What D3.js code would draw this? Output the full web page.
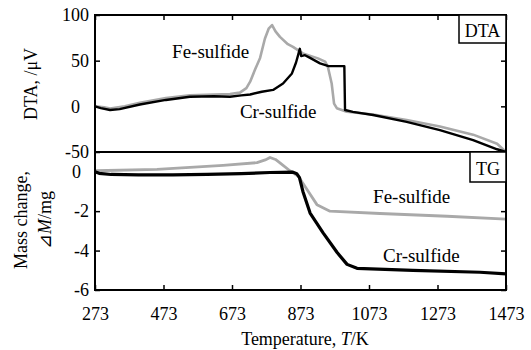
<!DOCTYPE html>
<html><head><meta charset="utf-8">
<script src="https://cdn.jsdelivr.net/npm/d3@7"></script>
<style>
body{margin:0;background:#fff;}
svg, svg text{font-family:"Liberation Serif","DejaVu Serif",serif !important;}
</style></head>
<body><svg id="c" width="531" height="350" style="font-family:'Liberation Serif',serif"></svg>
<script>
// ---- data ----
const xTicks = [273, 473, 673, 873, 1073, 1273, 1473];
const dtaTicks = [-50, 0, 50, 100];
const tgTicks = [-6, -4, -2, 0];
const series = ["Fe-sulfide", "Cr-sulfide"];
const dtaFe = [[273,0],[300,-1],[317,-2.5],[360,0],[404,4],[480,9],[550,12],[620,13],[667,13.5],[696,15],[715,20],[726,27],[740,40],[755,53],[769,74],[780,85],[790,89],[800,82],[813,76],[836,68],[851,65],[880,58],[924,52.5],[945,49],[953,43],[964,25],[971,3],[979,-2],[1008,-6],[1085,-9],[1183,-15],[1280,-22],[1377,-31],[1447,-41],[1473,-50]];
const dtaCr = [[273,0],[290,-2],[317,-4],[345,-3],[404,2],[480,7],[550,10.5],[620,11],[667,10.5],[700,12],[726,13],[760,16],[793,18],[822,25],[848,36],[860,48],[866,56],[871,63],[875,55],[886,56],[901,53],[930,47],[955,44],[1001,44],[1003,-4],[1026,-6],[1085,-9.5],[1183,-17],[1280,-26],[1377,-37],[1447,-47],[1473,-50]];
const tgFe = [[273,0.05],[454,0.12],[647,0.32],[746,0.46],[770,0.6],[784,0.72],[800,0.62],[813,0.45],[842,0.05],[866,-0.22],[892,-0.9],[921,-1.67],[959,-2.0],[1105,-2.12],[1301,-2.26],[1473,-2.4]];
const tgCr = [[273,0],[285,-0.08],[320,-0.14],[400,-0.16],[500,-0.16],[600,-0.14],[700,-0.1],[784,-0.04],[851,-0.02],[862,-0.1],[870,-0.3],[880,-1.0],[901,-2.1],[939,-3.1],[980,-4.1],[1009,-4.7],[1038,-4.9],[1201,-5.0],[1397,-5.1],[1473,-5.18]];
// label anchors in data units
const dtaLabels = [{t:"Fe-sulfide", x:498, y:53}, {t:"Cr-sulfide", x:696, y:-13}];
const tgLabels = [{t:"Fe-sulfide", x:1085, y:-1.57}, {t:"Cr-sulfide", x:1114, y:-4.58}];

// ---- layout ----
const FONT = "'Liberation Serif','DejaVu Serif',serif";
const svg = d3.select("#c");
const L = 95, R = 506, T1 = 15, B1 = 152, T2 = 152, B2 = 290;
const x = d3.scaleLinear().domain([273, 1473]).range([L, R]);
const yTop = d3.scaleLinear().domain([-50, 100]).range([B1, T1]);
const yBot = d3.scaleLinear().domain([-6, 1]).range([B2, T2]);
const colors = {"Fe-sulfide":"#a9a9a9", "Cr-sulfide":"#000"};
const fmt = d => String(d);

function styleAxis(g, labels){
  g.attr("font-family", FONT);
  g.select(".domain").remove();
  g.selectAll(".tick line").attr("stroke", "#000").attr("stroke-width", 1.5);
  if (!labels) g.selectAll(".tick text").remove();
  else g.selectAll(".tick text").attr("font-size", 18).attr("fill", "#000").attr("font-family", FONT);
}

// top panel axes
svg.append("g").attr("transform", `translate(${L},0)`)
  .call(d3.axisLeft(yTop).tickValues(dtaTicks).tickFormat(fmt).tickSize(-5).tickPadding(6))
  .call(g => styleAxis(g, true))
  .call(g => g.selectAll(".tick text").attr("dx", d => d === 0 ? -9 : 0));
svg.append("g").attr("transform", `translate(${R},0)`)
  .call(d3.axisRight(yTop).tickValues(dtaTicks).tickSize(-5)).call(g => styleAxis(g, false));
svg.append("g").attr("transform", `translate(0,${T1})`)
  .call(d3.axisTop(x).tickValues(xTicks).tickSize(-5)).call(g => styleAxis(g, false));

// bottom panel axes
svg.append("g").attr("transform", `translate(${L},0)`)
  .call(d3.axisLeft(yBot).tickValues(tgTicks).tickFormat(fmt).tickSize(-5).tickPadding(6))
  .call(g => styleAxis(g, true))
  .call(g => g.selectAll(".tick text").attr("dx", d => d === 0 ? -8 : 0));
svg.append("g").attr("transform", `translate(${R},0)`)
  .call(d3.axisRight(yBot).tickValues(tgTicks).tickSize(-5)).call(g => styleAxis(g, false));
svg.append("g").attr("transform", `translate(0,${B2})`)
  .call(d3.axisBottom(x).tickValues(xTicks).tickFormat(fmt).tickSize(-5).tickPadding(17))
  .call(g => styleAxis(g, true));

// lines
const lineTop = d3.line().x(d => x(d[0])).y(d => yTop(d[1]));
const lineBot = d3.line().x(d => x(d[0])).y(d => yBot(d[1]));
const dta = {"Fe-sulfide": dtaFe, "Cr-sulfide": dtaCr};
const tg = {"Fe-sulfide": tgFe, "Cr-sulfide": tgCr};
series.forEach(s => {
  svg.append("path").attr("d", lineTop(dta[s])).attr("fill", "none")
    .attr("stroke", colors[s]).attr("stroke-width", s === "Cr-sulfide" ? 2.4 : 2.6)
    .attr("stroke-linejoin", "round");
});
series.forEach(s => {
  svg.append("path").attr("d", lineBot(tg[s])).attr("fill", "none")
    .attr("stroke", colors[s]).attr("stroke-width", s === "Cr-sulfide" ? 3.2 : 2.8)
    .attr("stroke-linejoin", "round");
});

// frames
svg.append("rect").attr("x", L).attr("y", T1).attr("width", R - L).attr("height", B1 - T1)
  .attr("fill", "none").attr("stroke", "#000").attr("stroke-width", 2);
svg.append("rect").attr("x", L).attr("y", T2).attr("width", R - L).attr("height", B2 - T2)
  .attr("fill", "none").attr("stroke", "#000").attr("stroke-width", 2);

function txt(){ return svg.append("text").attr("font-family", FONT).attr("fill", "#000"); }

// panel tags
function tag(text, x0, y0, w, h, bx){
  svg.append("rect").attr("x", x0).attr("y", y0).attr("width", w).attr("height", h)
    .attr("fill", "#fff").attr("stroke", "#000").attr("stroke-width", 1.5);
  txt().attr("x", x0 + w / 2).attr("y", bx).attr("text-anchor", "middle")
    .attr("font-size", 18).text(text);
}
tag("DTA", 459, T1, R - 459, 28, 37);
tag("TG", 470, T2, R - 470, 30, 175);

// series labels
dtaLabels.forEach(l => txt().attr("x", x(l.x)).attr("y", yTop(l.y)).attr("font-size", 19).text(l.t));
tgLabels.forEach(l => txt().attr("x", x(l.x)).attr("y", yBot(l.y)).attr("font-size", 19).text(l.t));

// axis titles
txt().attr("transform", "translate(37,84) rotate(-90)").attr("text-anchor", "middle")
  .attr("font-size", 18).text("DTA, /μV");
txt().attr("transform", "translate(27,220) rotate(-90)").attr("text-anchor", "middle")
  .attr("font-size", 18).text("Mass change,");
const t2 = txt().attr("transform", "translate(51,220) rotate(-90)").attr("text-anchor", "middle")
  .attr("font-size", 18);
t2.append("tspan").text("⊿");
t2.append("tspan").attr("font-style", "italic").text("M");
t2.append("tspan").text("/mg");
const xt = txt().attr("x", 305).attr("y", 345).attr("text-anchor", "middle").attr("font-size", 18);
xt.append("tspan").text("Temperature, ");
xt.append("tspan").attr("font-style", "italic").text("T");
xt.append("tspan").text("/K");
</script></body></html>
